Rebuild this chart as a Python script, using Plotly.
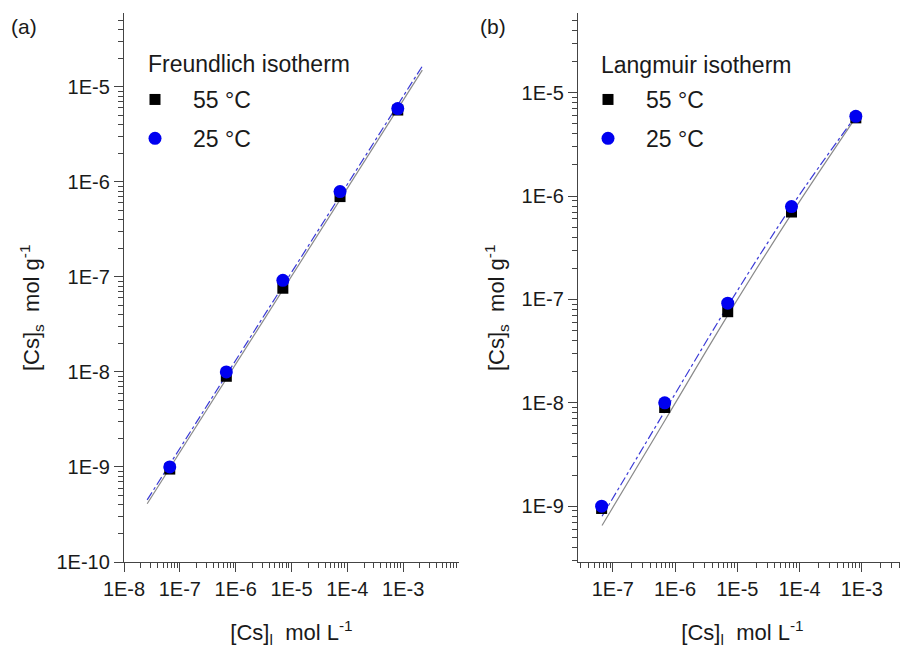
import plotly.graph_objects as go

# ---------------- data ----------------
conc = [6.6e-8, 6.8e-7, 7.0e-6, 7.4e-5, 8.0e-4]          # [Cs]l, mol/L
q_55 = [9.5e-10, 9.0e-9, 7.6e-8, 7.0e-7, 5.7e-6]          # [Cs]s at 55 °C
q_25 = [1.0e-9, 1.0e-8, 9.2e-8, 7.9e-7, 5.9e-6]           # [Cs]s at 25 °C

# Freundlich fit lines (panel a), end points
fr_x = [2.6e-8, 2.2e-3]
fr_55 = [4.1e-10, 1.5e-5]
fr_25 = [4.5e-10, 1.65e-5]

# Langmuir fit curves (panel b)
la_x = [6.7e-8, 7.0e-7, 7.0e-6, 7.5e-5, 7.9e-4]
la_55 = [6.5e-10, 6.9e-9, 7.0e-8, 6.8e-7, 5.7e-6]
la_25 = [8.0e-10, 8.5e-9, 8.6e-8, 8.0e-7, 5.9e-6]

series_names = ["55 °C", "25 °C"]
legend_titles = ["Freundlich isotherm", "Langmuir isotherm"]
panel_labels = ["(a)", "(b)"]

xa_ticks = [1e-8, 1e-7, 1e-6, 1e-5, 1e-4, 1e-3]
xa_text = ["1E-8", "1E-7", "1E-6", "1E-5", "1E-4", "1E-3"]
xb_ticks = [1e-7, 1e-6, 1e-5, 1e-4, 1e-3]
xb_text = ["1E-7", "1E-6", "1E-5", "1E-4", "1E-3"]
ya_ticks = [1e-10, 1e-9, 1e-8, 1e-7, 1e-6, 1e-5]
ya_text = ["1E-10", "1E-9", "1E-8", "1E-7", "1E-6", "1E-5"]
yb_ticks = [1e-9, 1e-8, 1e-7, 1e-6, 1e-5]
yb_text = ["1E-9", "1E-8", "1E-7", "1E-6", "1E-5"]

minor_vals = [m * 10.0 ** e for e in range(-11, -1) for m in range(2, 10)]

FONT = "Liberation Sans, Arial, sans-serif"
TXT = "#1a1a1a"
AX = "#444444"
BLACK_LINE = "#8a8a8a"
BLUE_LINE = "#3a3ad6"
BLUE = "#0000f0"

fig = go.Figure()

# ---- panel (a) ----
fig.add_trace(go.Scatter(x=fr_x, y=fr_55, mode="lines", xaxis="x", yaxis="y",
                         line=dict(color=BLACK_LINE, width=1.2), showlegend=False, hoverinfo="skip"))
fig.add_trace(go.Scatter(x=fr_x, y=fr_25, mode="lines", xaxis="x", yaxis="y",
                         line=dict(color=BLUE_LINE, width=1.2, dash="dashdot"), showlegend=False, hoverinfo="skip"))
fig.add_trace(go.Scatter(x=conc, y=q_55, mode="markers", name=series_names[0], xaxis="x", yaxis="y",
                         marker=dict(symbol="square", size=11, color="black"), legend="legend",
                         legendgroup="a55"))
fig.add_trace(go.Scatter(x=conc, y=q_25, mode="markers", name=series_names[1], xaxis="x", yaxis="y",
                         marker=dict(symbol="circle", size=13, color=BLUE), legend="legend",
                         legendgroup="a25"))

# ---- panel (b) ----
fig.add_trace(go.Scatter(x=la_x, y=la_55, mode="lines", xaxis="x2", yaxis="y2",
                         line=dict(color=BLACK_LINE, width=1.2, shape="spline"), showlegend=False, hoverinfo="skip"))
fig.add_trace(go.Scatter(x=la_x, y=la_25, mode="lines", xaxis="x2", yaxis="y2",
                         line=dict(color=BLUE_LINE, width=1.2, dash="dashdot", shape="spline"),
                         showlegend=False, hoverinfo="skip"))
fig.add_trace(go.Scatter(x=conc, y=q_55, mode="markers", name=series_names[0], xaxis="x2", yaxis="y2",
                         marker=dict(symbol="square", size=11, color="black"), legend="legend2",
                         legendgroup="b55"))
fig.add_trace(go.Scatter(x=conc, y=q_25, mode="markers", name=series_names[1], xaxis="x2", yaxis="y2",
                         marker=dict(symbol="circle", size=13, color=BLUE), legend="legend2",
                         legendgroup="b25"))

# the page has an 8px body margin; the figure fits the remaining window
OFF = 8
W, H = 900, 640


def px_x(p):
    return (p - OFF) / W


def px_y(p):
    return 1 - (p - OFF) / H


common_axis = dict(type="log", showline=True, linecolor=AX, linewidth=1.3, mirror=False,
                   showgrid=False, zeroline=False, ticks="outside", ticklen=9, tickwidth=1.2,
                   tickcolor=AX, tickfont=dict(family=FONT, size=20, color=TXT), automargin=False,
                   minor=dict(tickmode="array", tickvals=minor_vals, ticks="outside", ticklen=5,
                              tickwidth=1, tickcolor=AX, showgrid=False))

xtitle = dict(text="[Cs]<sub>l</sub>\u00a0 mol L<sup>-1</sup>", font=dict(family=FONT, size=22, color=TXT),
              standoff=25)

legend_common = dict(xanchor="left", yanchor="top", bgcolor="rgba(0,0,0,0)",
                     font=dict(family=FONT, size=23, color=TXT), itemwidth=66, tracegroupgap=6,
                     traceorder="grouped")


def note(text, x, y, size, xanchor="center", angle=0):
    return dict(text=text, x=px_x(x), y=px_y(y), xref="paper", yref="paper", xanchor=xanchor,
                yanchor="middle", showarrow=False, textangle=angle,
                font=dict(family=FONT, size=size, color=TXT))


ytitle = "[Cs]<sub>s</sub>\u00a0 mol g<sup>-1</sup>"

fig.update_layout(
    width=W, height=H, margin=dict(l=0, r=0, t=0, b=0, autoexpand=False),
    paper_bgcolor="white", plot_bgcolor="white",
    font=dict(family=FONT, color=TXT),
    xaxis=dict(common_axis, domain=[px_x(124), px_x(459)], range=[-8, -2], anchor="y",
               tickmode="array", tickvals=xa_ticks, ticktext=xa_text, title=xtitle),
    yaxis=dict(common_axis, domain=[px_y(562), px_y(13)], range=[-10, -4.223], anchor="x",
               tickmode="array", tickvals=ya_ticks, ticktext=ya_text),
    xaxis2=dict(common_axis, domain=[px_x(578), px_x(907)], range=[-7.56, -2.275], anchor="y2",
                tickmode="array", tickvals=xb_ticks, ticktext=xb_text, title=xtitle),
    yaxis2=dict(common_axis, domain=[px_y(562), px_y(13)], range=[-9.54, -4.23], anchor="x2",
                tickmode="array", tickvals=yb_ticks, ticktext=yb_text),
    legend=dict(legend_common, x=px_x(117), y=px_y(78)),
    legend2=dict(legend_common, x=px_x(570), y=px_y(78)),
    annotations=[
        note(legend_titles[0], 146, 64, 23, xanchor="left"),
        note(legend_titles[1], 599, 65, 23, xanchor="left"),
        note(panel_labels[0], 24, 27, 21),
        note(panel_labels[1], 493, 27, 21),
        note(ytitle, 31, 308, 22, angle=-90),
        note(ytitle, 496, 308, 22, angle=-90),
    ],
)

fig.write_html("out.html")
